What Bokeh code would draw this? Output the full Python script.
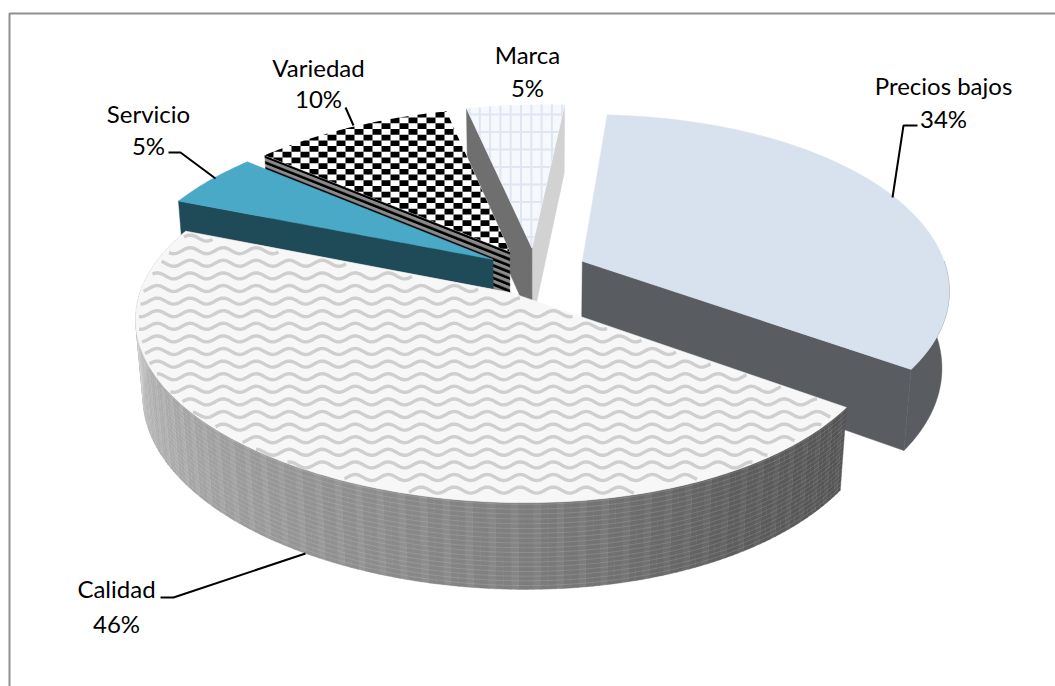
import numpy as np
from bokeh.core.properties import value
from bokeh.embed import file_html
from bokeh.models import Range1d
from bokeh.plotting import figure
from bokeh.resources import INLINE

# Market-share slices, clockwise from the first slice
categories = ["Precios bajos", "Calidad", "Servicio", "Variedad", "Marca"]
shares = [34, 46, 5, 10, 5]

# Label placement: centre of the text block on the page
label_x = [943, 116, 148, 318, 527]
label_name_y = [85, 588, 113, 67, 54]
label_pct_y = [118, 623, 145, 98, 87]

# Leader lines from the labels to the slices
leader_xs = [[917, 903, 892], [160, 173, 305], [168, 180, 215], [345, 353]]
leader_ys = [[125, 125, 197], [597, 597, 553], [152, 152, 178], [107, 125]]

# Pie projection settings
START_DEG = -86.5
EXPLODE = 0.14
CX, CY = 536.0, 271.0
SX, SY = 365.0, 171.4
BOW = 12.0
TILT = 0.149
DEPTH = 78.0
SHRINK = 0.018

FONT = "Lato"
FONT_PX = "24px"


def project(u, v, z=0.0):
    w = 1 - TILT * v + SHRINK * z
    return CX + (SX * u + BOW * v * v) / w, CY + (SY * v + DEPTH * z) / w


def clip_convex(xs, ys, px, py):
    """Sutherland-Hodgman clip of a polygon against a convex polygon."""
    area = sum(px[i] * py[(i + 1) % len(px)] - px[(i + 1) % len(px)] * py[i] for i in range(len(px)))
    sign = 1 if area > 0 else -1
    poly = list(zip(xs, ys))
    for i in range(len(px)):
        ax, ay, bx, by = px[i], py[i], px[(i + 1) % len(px)], py[(i + 1) % len(px)]
        side = lambda q: sign * ((bx - ax) * (q[1] - ay) - (by - ay) * (q[0] - ax))
        out = []
        for j, q in enumerate(poly):
            r = poly[(j + 1) % len(poly)]
            sq, sr = side(q), side(r)
            if sq >= 0:
                out.append(q)
            if sq * sr < 0:
                t = sq / (sq - sr)
                out.append((q[0] + t * (r[0] - q[0]), q[1] + t * (r[1] - q[1])))
        poly = out
        if not poly:
            return None
    return [q[0] for q in poly], [q[1] for q in poly]


def inside_convex(x, y, px, py):
    area = sum(px[i] * py[(i + 1) % len(px)] - px[(i + 1) % len(px)] * py[i] for i in range(len(px)))
    sign = 1 if area > 0 else -1
    ok = np.ones_like(x, dtype=bool)
    for i in range(len(px)):
        ax, ay, bx, by = px[i], py[i], px[(i + 1) % len(px)], py[(i + 1) % len(px)]
        ok &= sign * ((bx - ax) * (y - ay) - (by - ay) * (x - ax)) >= 0
    return ok


# Slice geometry derived from the shares
slices = []
angle = START_DEG
for name, share in zip(categories, shares):
    span = share * 3.6
    a0, a1 = np.radians(angle), np.radians(angle + span)
    mid = (a0 + a1) / 2
    slices.append(dict(name=name, a0=a0, a1=a1,
                       ou=EXPLODE * np.cos(mid), ov=EXPLODE * np.sin(mid)))
    angle += span


def apex(s, z=0.0):
    return project(s["ou"], s["ov"], z)


def rim(s, theta, z=0.0):
    return project(s["ou"] + np.cos(theta), s["ov"] + np.sin(theta), z)


def top_outline(s):
    th = np.linspace(s["a0"], s["a1"], max(8, int(np.degrees(s["a1"] - s["a0"]))))
    rx, ry = rim(s, th)
    ax, ay = apex(s)
    return [float(ax)] + [float(x) for x in rx], [float(ay)] + [float(y) for y in ry]


def radial_face(s, theta, z0=0.0, z1=1.0):
    ax0, ay0 = apex(s, z0)
    rx0, ry0 = rim(s, theta, z0)
    rx1, ry1 = rim(s, theta, z1)
    ax1, ay1 = apex(s, z1)
    return [ax0, rx0, rx1, ax1], [ay0, ry0, ry1, ay1]


def front_wall(s, from_theta):
    th = np.linspace(from_theta, s["a1"], 60)
    xt, yt = rim(s, th, 0.0)
    xb, yb = rim(s, th, 1.0)
    return list(xt) + list(xb[::-1]), list(yt) + list(yb[::-1])


p = figure(width=1055, height=686, output_backend="svg", toolbar_location=None,
           x_range=Range1d(0, 1055), y_range=Range1d(686, 0),
           x_axis_type=None, y_axis_type=None, min_border=0,
           outline_line_color=None, background_fill_color="white",
           border_fill_color="white")
p.grid.visible = False


def fill(xs, ys, color):
    p.patch(xs, ys, fill_color=color, line_color=color, line_width=0.5)


def fill_many(xs, ys, colors):
    p.patches(xs, ys, fill_color=colors, line_color=colors, line_width=0.4)


# Chart frame (top and left only)
p.line([1055, 9, 9], [13, 13, 686], line_color="#8f8f8f", line_width=2)

precios, calidad, servicio, variedad, marca = slices

# Marca: two pale side faces and a gridded top
fx, fy = radial_face(marca, marca["a1"])
fill(fx, fy, "#d2d2d2")
fx, fy = radial_face(marca, marca["a0"])
fill(fx, fy, "#6f6f6f")
tx, ty = top_outline(marca)
fill(tx, ty, "#f5f8fc")
grid_x, grid_y, grid_c = [], [], []
for gx in np.arange(479.3 - 20.6, 575, 10.3):
    c = clip_convex([gx - 1, gx + 1, gx + 1, gx - 1], [90, 90, 260, 260], tx, ty)
    if c:
        grid_x.append(c[0]); grid_y.append(c[1]); grid_c.append("#e0e6f1")
for gy in np.arange(114, 260, 17.5):
    c = clip_convex([450, 600, 600, 450], [gy - 1, gy - 1, gy + 1, gy + 1], tx, ty)
    if c:
        grid_x.append(c[0]); grid_y.append(c[1]); grid_c.append("#e0e6f1")
p.patches(grid_x, grid_y, fill_color=grid_c, line_color=None)

# Variedad: striped side face and a checkered top
band_x, band_y, band_c = [], [], []
bands = 24
for i in range(bands):
    fx, fy = radial_face(variedad, variedad["a0"], i / bands, (i + 1) / bands)
    band_x.append(fx); band_y.append(fy)
    band_c.append("#000000" if i % 2 == 0 else "#8a8a8a")
fill_many(band_x, band_y, band_c)
tx, ty = top_outline(variedad)
fill(tx, ty, "#ffffff")
cell_w, cell_h = 9.0, 5.7
chk_x, chk_y = [], []
for row, cy0 in enumerate(np.arange(100, 265, cell_h)):
    for col, cx0 in enumerate(np.arange(255, 525, cell_w)):
        if (row + col) % 2:
            continue
        c = clip_convex([cx0, cx0 + cell_w, cx0 + cell_w, cx0],
                        [cy0, cy0, cy0 + cell_h, cy0 + cell_h], tx, ty)
        if c and len(c[0]) >= 3:
            chk_x.append(c[0]); chk_y.append(c[1])
p.patches(chk_x, chk_y, fill_color="#000000", line_color=None)

# Servicio: flat teal slice
fx, fy = radial_face(servicio, servicio["a0"])
fill(fx, fy, "#1f4a58")
tx, ty = top_outline(servicio)
fill(tx, ty, "#49a9c6")

# Precios bajos: flat pale blue slice with a dark wall (front part of the rim only)
wx, wy = front_wall(precios, np.radians(0))
fill(wx, wy, "#595c60")
fx, fy = radial_face(precios, precios["a1"])
fill(fx, fy, "#595c60")
tx, ty = top_outline(precios)
fill(tx, ty, "#d8e2ee")

# Calidad: shaded wall with fine banding, then a wavy top
fx, fy = radial_face(calidad, calidad["a1"])
fill(fx, fy, "#8d8d8d")
deg = np.arange(np.degrees(calidad["a0"]), np.degrees(calidad["a1"]), 1.0)
shade_at = [37, 60, 90, 120, 150, 180, 203]
shade_val = [86, 96, 128, 150, 172, 184, 196]
strip_x, strip_y, strip_c = [], [], []
for i, d in enumerate(deg):
    t0, t1 = np.radians(d), np.radians(min(d + 1.05, np.degrees(calidad["a1"])))
    xa, ya = rim(calidad, t0, 0.0)
    xb, yb = rim(calidad, t1, 0.0)
    xc, yc = rim(calidad, t1, 1.0)
    xd, yd = rim(calidad, t0, 1.0)
    strip_x.append([xa, xb, xc, xd]); strip_y.append([ya, yb, yc, yd])
    g = int(np.interp(d, shade_at, shade_val) + (5 if int(d) % 3 == 0 else -2))
    strip_c.append(f"#{g:02x}{g:02x}{g:02x}")
fill_many(strip_x, strip_y, strip_c)
th = np.linspace(calidad["a0"], calidad["a1"], 120)
line_x, line_y = [], []
for z in np.arange(0.02, 1.0, 0.055):
    lx, ly = rim(calidad, th, z)
    line_x.append(list(lx)); line_y.append(list(ly))
p.multi_line(line_x, line_y, line_color="#ffffff", line_alpha=0.13, line_width=1)

tx, ty = top_outline(calidad)
fill(tx, ty, "#f7f7f7")
# Keep the wave strokes just inside the slice edge
mx, my = np.mean(tx), np.mean(ty)
inner_x = [mx + (x - mx) * 0.992 for x in tx]
inner_y = [my + (y - my) * 0.985 for y in ty]
wave_x, wave_y = [], []
xs_wave = np.arange(125.0, 870.0, 1.5)
for y0 in np.arange(225.0, 520.0, 12.6):
    ys_wave = y0 + 3.0 * np.sin(2 * np.pi * xs_wave / 33.0)
    ok = inside_convex(xs_wave, ys_wave, inner_x, inner_y)
    idx = np.flatnonzero(ok)
    if idx.size:
        for run in np.split(idx, np.flatnonzero(np.diff(idx) > 1) + 1):
            if run.size >= 14:
                wave_x.append(list(xs_wave[run])); wave_y.append(list(ys_wave[run]))
p.multi_line(wave_x, wave_y, line_color="#cfcfcf", line_width=3.4)

# Leaders and labels
p.multi_line(leader_xs, leader_ys, line_color="#000000", line_width=2)
names = list(categories)
pcts = [f"{s}%" for s in shares]
p.text(label_x, label_name_y, text=names, text_align="center", text_baseline="middle",
       text_color="#000000", text_font=value(FONT), text_font_size=value(FONT_PX))
p.text(label_x, label_pct_y, text=pcts, text_align="center", text_baseline="middle",
       text_color="#000000", text_font=value(FONT), text_font_size=value(FONT_PX))

open("out.html", "w").write(file_html(p, INLINE))
